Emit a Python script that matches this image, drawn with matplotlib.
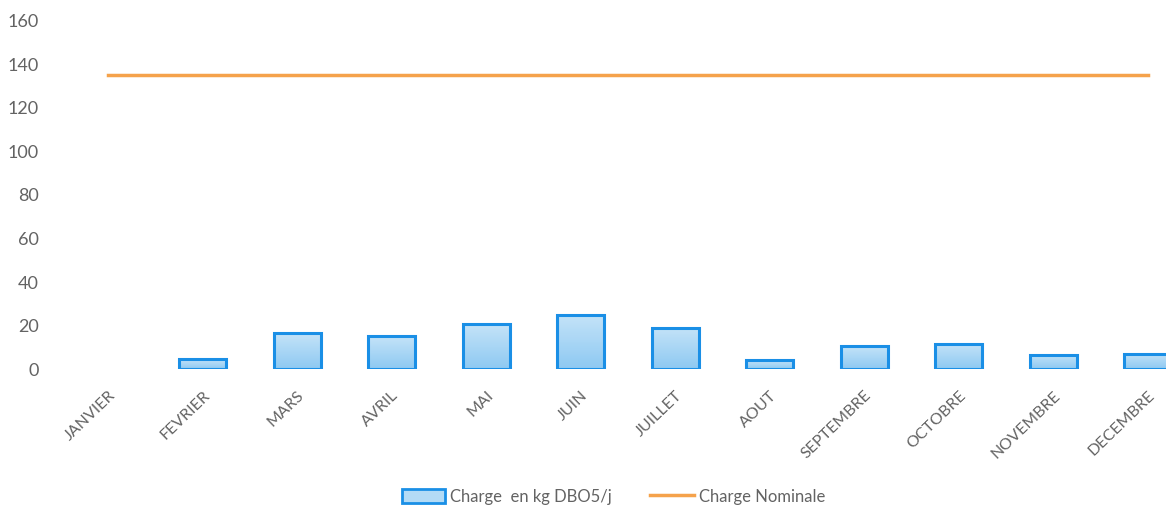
import numpy as np
import matplotlib
matplotlib.use("Agg")
from matplotlib import pyplot as plt
from matplotlib.patches import Patch
from matplotlib.lines import Line2D
from matplotlib.colors import LinearSegmentedColormap

mois = ["JANVIER", "FEVRIER", "MARS", "AVRIL", "MAI", "JUIN", "JUILLET",
        "AOUT", "SEPTEMBRE", "OCTOBRE", "NOVEMBRE", "DECEMBRE"]
charge = [0, 4.5, 16.5, 15, 20.5, 25, 19, 4, 10.5, 11.5, 6.5, 7]
nominale = [135] * 12
yticks = [0, 20, 40, 60, 80, 100, 120, 140, 160]

plt.rcParams['font.family'] = ['Lato', 'DejaVu Sans']
gris = '#636363'
bleu = '#1a8fe6'
orange = '#f5a24b'

fig = plt.figure(figsize=(11.66, 5.08), dpi=100)
ax = fig.add_axes([0.0523, 0.2736, 0.9725, 0.6851])

x = np.arange(len(mois))
bars = ax.bar(x, charge, width=0.5, facecolor='none', edgecolor=bleu, linewidth=2.2, zorder=3)
# remplissage en degrade clair -> un peu plus fonce vers le bas
cmap = LinearSegmentedColormap.from_list('bl', ['#8ec9f2', '#c4e3f8'])
grad = np.linspace(0, 1, 64).reshape(-1, 1)
for b in bars:
    if b.get_height() <= 0:
        b.set_visible(False)
        continue
    x0, y0 = b.get_x(), b.get_y()
    im = ax.imshow(grad, cmap=cmap, aspect='auto', origin='lower',
                   extent=(x0, x0 + b.get_width(), y0, y0 + b.get_height()), zorder=2)
    im.set_clip_path(b)

ax.plot(x, nominale, color=orange, linewidth=2.5, zorder=4)

ax.set_xlim(-0.5, len(mois) - 0.5)
ax.set_ylim(0, 160)
ax.set_yticks(yticks)
ax.set_xticks(x)
ax.set_xticklabels(mois, rotation=44, ha='right', rotation_mode='anchor', fontsize=11.5, color=gris)
ax.tick_params(axis='both', length=0)
ax.tick_params(axis='y', pad=16, labelsize=13, labelcolor=gris)
ax.tick_params(axis='x', pad=14)
for s in ax.spines.values():
    s.set_visible(False)

handles = [Patch(facecolor='#b3dbf6', edgecolor=bleu, linewidth=2),
           Line2D([0], [0], color=orange, linewidth=2.5)]
fig.legend(handles, ["Charge  en kg DBO5/j", "Charge Nominale"], loc='center',
           bbox_to_anchor=(0.526, 0.022), ncol=2, frameon=False, fontsize=12,
           labelcolor=gris, handlelength=2.6, handleheight=0.9, handletextpad=0.3,
           columnspacing=2.3)

fig.savefig('out.png', dpi=100)
